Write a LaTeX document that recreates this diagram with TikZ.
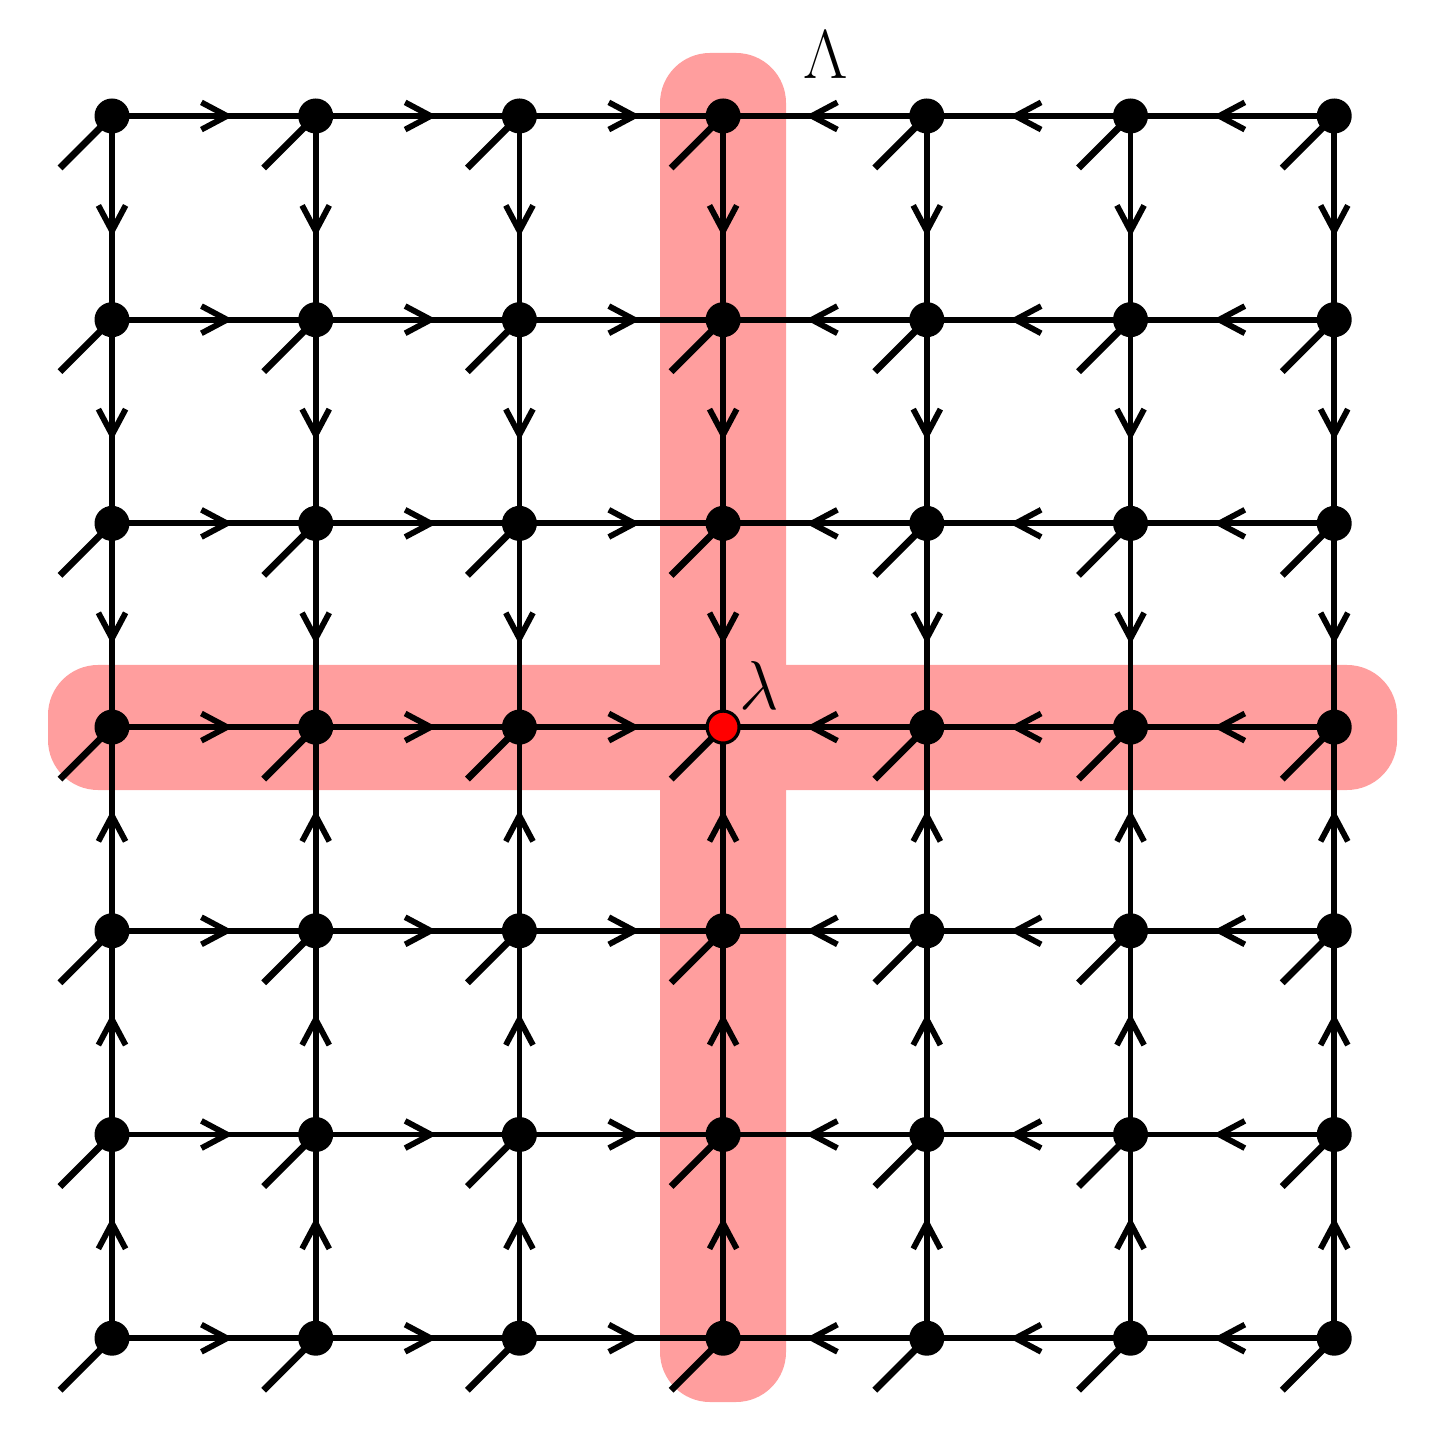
\documentclass[tikz,border=0pt]{standalone}
\usetikzlibrary{arrows.meta,decorations.markings}
\definecolor{bandpink}{RGB}{255,158,158}
\begin{document}
\begin{tikzpicture}[x=0.25pt,y=-0.25pt,
  edge/.style={line width=1.45pt, postaction={decorate},
    decoration={markings, mark=at position 0.595 with {\arrow{Straight Barb[length=6.4pt,width=6.8pt]}}}},
  leg/.style={line width=1.7pt},
  site/.style={circle, fill=black, inner sep=0pt, minimum size=8.75pt},
  redsite/.style={circle, fill=red, draw=black, line width=0.8pt, inner sep=0pt, minimum size=8pt},
  band/.style={fill=bandpink, rounded corners=12.5pt},
  lbl/.style={font=\fontsize{16.5}{20}\selectfont, inner sep=0pt}
]
\useasboundingbox (0,0) rectangle (1446,1451);
% highlight bands
\fill[band] (660,53) rectangle (786,1402);
\fill[band] (48,665) rectangle (1397,790);
% coordinates of sites
\foreach \i in {0,...,6}{
  \foreach \j in {0,...,6}{
    \coordinate (p-\i-\j) at ({112+203.7*\i},{116+203.7*\j});
    \coordinate (l-\i-\j) at ({112+203.7*\i-52},{116+203.7*\j+52});
  }
}
% horizontal edges
\foreach \j in {0,...,6}{
  \foreach \i in {0,...,5}{
    \pgfmathtruncatemacro{\k}{\i+1}
    \ifnum\i<3
      \draw[edge] (p-\i-\j) -- (p-\k-\j);
    \else
      \draw[edge] (p-\k-\j) -- (p-\i-\j);
    \fi
  }
}
% vertical edges
\foreach \i in {0,...,6}{
  \foreach \j in {0,...,5}{
    \pgfmathtruncatemacro{\k}{\j+1}
    \ifnum\j<3
      \draw[edge] (p-\i-\j) -- (p-\i-\k);
    \else
      \draw[edge] (p-\i-\k) -- (p-\i-\j);
    \fi
  }
}
% legs
\foreach \i in {0,...,6}{
  \foreach \j in {0,...,6}{
    \draw[leg] (p-\i-\j) -- (l-\i-\j);
  }
}
% sites
\foreach \i in {0,...,6}{
  \foreach \j in {0,...,6}{
    \ifnum\i=3 \ifnum\j=3
      \node[redsite] (n-\i-\j) at (p-\i-\j) {};
    \else
      \node[site] (n-\i-\j) at (p-\i-\j) {};
    \fi\else
      \node[site] (n-\i-\j) at (p-\i-\j) {};
    \fi
  }
}
\node[lbl] (Lam) at (826,55) {$\Lambda$};
\node[lbl] (lam) at (759,686) {$\lambda$};
\end{tikzpicture}
\end{document}
